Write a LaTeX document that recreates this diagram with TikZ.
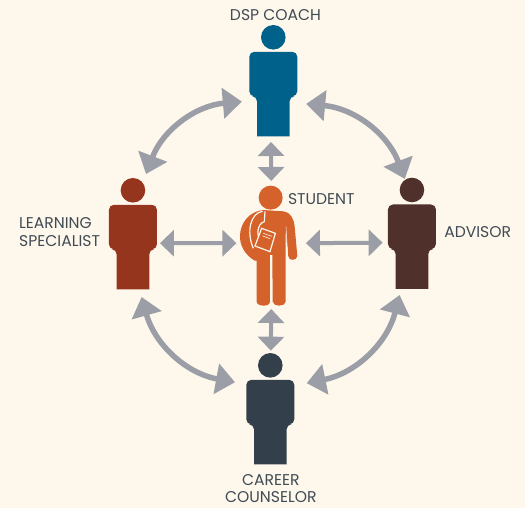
\documentclass[tikz,border=0pt]{standalone}
\usepackage{fontspec}
\setmainfont{Poppins}
\usepackage{xcolor}
\usetikzlibrary{positioning,arrows.meta}

\definecolor{creambg}{HTML}{FEF8EC}
\definecolor{arrowgrey}{HTML}{9B9EA6}
\definecolor{labelgrey}{HTML}{414B54}
\definecolor{coachblue}{HTML}{00628B}
\definecolor{specialistred}{HTML}{96351E}
\definecolor{studentorange}{HTML}{D4622A}
\definecolor{advisorbrown}{HTML}{50302B}
\definecolor{counselorslate}{HTML}{333F4A}

\tikzset{
	personbox/.style={inner sep=0pt, outer sep=0pt},
	rolelabel/.style={inner sep=0pt, outer sep=0pt, text=labelgrey, font=\fontsize{15.6}{17.8}\selectfont},
	ringarrow/.style={{Triangle[length=19pt,width=30pt]}-{Triangle[length=19pt,width=30pt]}, arrowgrey, line width=5.5pt},
	spokearrow/.style={{Triangle[length=14pt,width=26pt]}-{Triangle[length=14pt,width=26pt]}, arrowgrey, line width=4pt}
}

% #1 node, #2 colour, #3 #4 head offset from the node centre
\newcommand{\personfig}[4]{
	\begin{scope}[shift={(#1)}, xshift=#3pt, yshift=#4pt]
		\fill[#2] (0,0) circle (12.3);
		\fill[#2, rounded corners=5pt] (-24,-14.5) -- (24,-14.5) -- (24,-59) -- (16.3,-59) [sharp corners] -- (16.3,-99) -- (-16.3,-99) [rounded corners=5pt] -- (-16.3,-59) -- (-24,-59) -- cycle;
	\end{scope}
}

\begin{document}
\begin{tikzpicture}[x=1pt, y=1pt]
	\useasboundingbox (0,0) rectangle (525,508);
	\fill[creambg] (0,0) rectangle (525,508);

	% persone
	\node[personbox, minimum width=69.5pt, minimum height=128pt] (student) at (271.2,263) {};
	\node[personbox, minimum width=64.3pt, minimum height=118pt, above=39pt of student, xshift=2.8pt] (coach) {};
	\node[personbox, minimum width=54pt, minimum height=123pt, left=76.5pt of student, yshift=9.5pt] (specialist) {};
	\node[personbox, minimum width=58.6pt, minimum height=116pt, right=76.7pt of student, yshift=8pt] (advisor) {};
	\node[personbox, minimum width=71.7pt, minimum height=113.3pt, below=41.7pt of student, xshift=-0.35pt] (counselor) {};

	\personfig{coach}{coachblue}{-0.7}{45.7}
	\personfig{specialist}{specialistred}{0}{45.2}
	\personfig{advisor}{advisorbrown}{0}{47}
	\personfig{counselor}{counselorslate}{-0.55}{42}

	% studente
	\begin{scope}[shift={(student)}, xshift=-51.2pt, yshift=75pt, x=0.3333pt, y=-0.3333pt]
		\fill[studentorange] (152,83) circle (36);
		\fill[studentorange] (130,120) -- (190,124) .. controls (215,128) and (222,150) .. (224,170) -- (232,258) .. controls (232,272) and (206,274) .. (205,260) -- (197,180) -- (197,395) .. controls (197,410) and (160,412) .. (158,395) -- (157,255) -- (150,255) -- (150,395) .. controls (150,412) and (110,410) .. (110,395) -- (110,272) -- (104,272) .. controls (75,255) and (58,225) .. (60,195) .. controls (62,160) and (85,125) .. (130,120) -- cycle;
		% spallina e libro
		\draw[creambg, line width=1.2pt] (128,124) .. controls (92,128) and (78,185) .. (100,235);
		\draw[creambg, line width=1.2pt] (135,124) -- (133,155) .. controls (112,160) and (105,200) .. (128,222);
		\draw[creambg, line width=0.5pt] (198,170) -- (204,268);
		\draw[creambg, line width=1.2pt, fill=studentorange] (125,175) -- (166,190) -- (150,245) -- (105,228) -- cycle;
		\draw[creambg, line width=0.6pt] (130,190) -- (156,199);
		\draw[creambg, line width=0.6pt] (128,198) -- (150,206);
	\end{scope}

	% frecce
	\draw[ringarrow] (coach.210.6) to[bend right=32] (specialist.78.3);
	\draw[ringarrow] (specialist.-82) to[bend right=32] (counselor.145.9);
	\draw[ringarrow] (counselor.34.1) to[bend right=32] (advisor.258);
	\draw[ringarrow] (advisor.97) to[bend right=32] (coach.-33.3);
	\draw[spokearrow] (coach.267) -- (student.north);
	\draw[spokearrow] (student.south) -- (counselor.north);
	\draw[spokearrow] (specialist.-16) -- (student.177);
	\draw[spokearrow] (student.3) -- (advisor.191.9);

	% etichette
	\node[rolelabel, above=3.5pt of coach, xshift=1.5pt] (coachlabel) {DSP COACH};
	\node[rolelabel, align=left, left=6pt of specialist, yshift=3.5pt] (specialistlabel) {LEARNING\\SPECIALIST};
	\node[rolelabel, anchor=west] (studentlabel) at (288,309) {STUDENT};
	\node[rolelabel, right=3pt of advisor, yshift=5pt] (advisorlabel) {ADVISOR};
	\node[rolelabel, align=center, below=10pt of counselor] (counselorlabel) {CAREER\\COUNSELOR};
\end{tikzpicture}
\end{document}
